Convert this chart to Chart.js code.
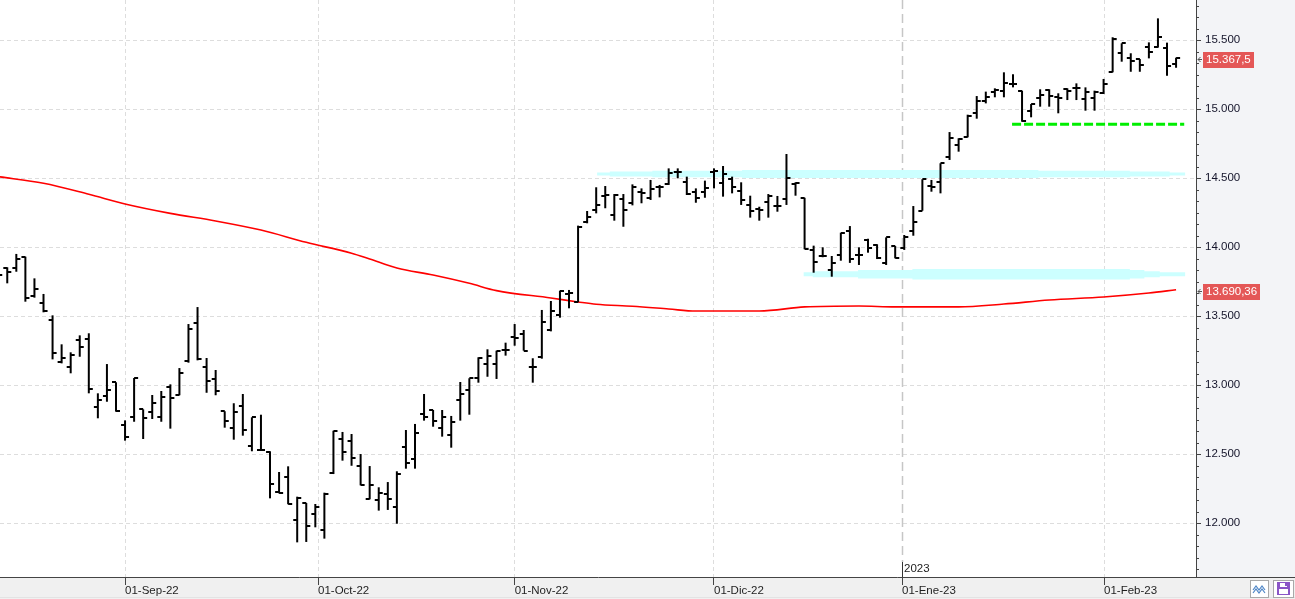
<!DOCTYPE html>
<html><head><meta charset="utf-8">
<script src="https://cdn.jsdelivr.net/npm/chart.js@4.4.1/dist/chart.umd.min.js"></script>
<style>html,body{margin:0;padding:0;background:#fff;overflow:hidden}#wrap{width:1295px;height:599px;position:relative}</style>
</head><body><div id="wrap"><canvas id="c" width="1295" height="599"></canvas></div>
<script>
// ---- OHLC values (one per trading day, index 0..130) ----
const opens = [13780,13846,13846,13930,13647,13594,13471,13165,13131,13326,
 13334,12839,12920,13020,12711,12766,12824,12802,12766,12986,
 12926,13172,13447,13129,13042,12810,12686,12848,12556,12527,
 12513,12227,12334,12020,12145,12063,11950,12360,12607,12592,
 12413,12172,12165,12208,12116,12549,12462,12788,12819,12689,
 12636,12892,12962,13053,13152,13152,13252,13346,13370,13129,
 13201,13399,13507,13657,13600,14179,14268,14372,14232,14346,
 14317,14397,14353,14433,14457,14546,14469,14397,14397,14541,
 14466,14491,14406,14305,14273,14324,14300,14346,14454,14357,
 13979,13937,13834,13940,14118,13942,14051,14015,13887,14007,
 13991,14116,14263,14444,14473,14650,14739,14799,14973,15056,
 15121,15131,15181,15133,14986,15078,15138,15085,15143,15155,
 15070,15078,15118,15270,15404,15372,15362,15447,15447,15445,
 15324];
const highs = [13830,13853,13950,13930,13773,13660,13505,13295,13237,13360,
 13375,12940,13152,13020,12744,13051,12824,12928,12957,13005,
 13123,13442,13565,13196,13109,12810,12868,12935,12766,12785,
 12520,12370,12411,12191,12145,12138,12220,12669,12660,12645,
 12500,12413,12259,12297,12375,12674,12718,12935,12819,12819,
 12776,13022,13049,13201,13259,13249,13307,13442,13399,13194,
 13544,13609,13684,13689,14155,14261,14433,14442,14384,14384,
 14454,14425,14486,14450,14570,14570,14510,14425,14481,14570,
 14587,14510,14469,14372,14292,14384,14370,14674,14469,14357,
 14010,13998,13935,14104,14152,13998,14060,14020,14070,14007,
 14087,14297,14491,14486,14607,14833,14788,14959,15094,15126,
 15150,15266,15252,15133,15036,15143,15143,15114,15150,15186,
 15157,15133,15218,15520,15476,15404,15362,15483,15657,15481,
 15372];
const lows = [13760,13737,13821,13604,13633,13527,13186,13157,13085,13205,
 12940,12759,12879,12807,12597,12734,12609,12754,12734,12684,
 12926,13162,13179,12944,12926,12691,12604,12633,12520,12527,
 12179,12215,12136,11860,11863,11969,11887,12355,12452,12415,
 12273,12172,12090,12095,11995,12394,12394,12742,12698,12626,
 12546,12742,12785,13017,13060,13044,13213,13285,13249,13017,
 13191,13389,13488,13556,13600,14172,14244,14281,14191,14147,
 14302,14317,14341,14360,14450,14498,14377,14321,14357,14425,
 14365,14389,14305,14213,14191,14213,14256,14305,14372,13984,
 13814,13926,13785,13901,13885,13870,13959,13913,13870,13918,
 13979,14082,14263,14401,14389,14631,14691,14795,14930,15041,
 15085,15085,15157,14908,14940,15017,15017,14969,15065,15065,
 14988,14988,15109,15266,15343,15270,15270,15367,15445,15241,
 15299];
const closes = [13797,13817,13911,13628,13694,13539,13230,13194,13216,13273,
 12969,12889,12962,12814,12626,13051,12759,12868,12916,12904,
 13085,13404,13186,13027,12955,12737,12802,12672,12766,12527,
 12281,12220,12136,12184,11979,12116,12210,12665,12515,12469,
 12273,12276,12218,12172,12355,12433,12650,12766,12737,12766,
 12730,12933,13049,13196,13208,13247,13252,13339,13249,13129,
 13454,13534,13680,13669,14147,14220,14305,14377,14377,14266,
 14433,14389,14418,14437,14538,14544,14384,14353,14425,14550,
 14529,14437,14341,14261,14268,14370,14300,14498,14462,13984,
 13889,13937,13882,14099,13913,13942,13993,13920,14070,13918,
 14070,14184,14491,14433,14607,14792,14781,14952,15058,15085,
 15138,15186,15181,14915,15034,15102,15094,15078,15131,15155,
 15126,15126,15181,15507,15476,15348,15317,15411,15520,15312,
 15367.5];

// ---- moving average (red), read at these bar indices ----
const maIndex  = [0,5,10,14,19,24,29,34,39,41,44,48,52,55,61,64,66,70,74,77,84,89,95,99,106,111,116,122,127,130];
const maValues = [14510,14462,14382,14312,14244,14189,14123,14034,13955,13913,13848,13797,13737,13684,13631,13602,13585,13571,13551,13536,13536,13566,13573,13566,13566,13587,13616,13638,13667,13690.36];

// ---- drawn levels ----
const upperZoneIndex = [66.1, 131.0];  const upperZoneValue = 14530;
const lowerZoneIndex = [88.9, 131.0];  const lowerZoneValue = 13802;
const supportIndex   = [111.9, 130.9]; const supportValue   = 14889;

// ---- axes ----
const monthLabels = ['01-Sep-22','01-Oct-22','01-Nov-22','01-Dic-22','01-Ene-23','01-Feb-23'];
const monthIndex  = [14, 35.3, 57, 79, 99.76, 122.05];
const yearLabel = '2023';
const yearIndex = 99.76;
const yTicks = [12000,12500,13000,13500,14000,14500,15000,15500];
const yMin = 11609, yMax = 15790;
const xMin = 0.1987, xMax = 132.2;

function fmtNum(v, dec){
  const s = v.toFixed(dec).split('.');
  const int = s[0].replace(/\B(?=(\d{3})+(?!\d))/g, '.');
  return s.length > 1 ? int + ',' + s[1] : int;
}
function decimalsOf(v){ const s = String(v).split('.'); return s.length > 1 ? s[1].length : 0; }

function tickImage(side){
  const c = document.createElement('canvas');
  c.width = 10; c.height = 2;
  const g = c.getContext('2d');
  g.fillStyle = '#000';
  if (side < 0) g.fillRect(1, 0, 4, 2); else g.fillRect(5, 0, 4, 2);
  return c;
}
const openImg = tickImage(-1), closeImg = tickImage(1);

const idx = opens.map((_, i) => i);
const FONT = 'Liberation Sans';

function seg(indexArr, value){ return indexArr.map(x => ({x, y: value})); }
function subSeg(a, b, value){ return [{x:a, y:value},{x:b, y:value}]; }

const zoneColor = '#ccffff';
const datasets = [
  {type:'line', data: seg(upperZoneIndex, upperZoneValue), borderColor: zoneColor, borderWidth: 3, pointRadius:0, order: 20, borderCapStyle:'butt'},
  {type:'line', data: subSeg(67.5, 129.3, upperZoneValue), borderColor: zoneColor, borderWidth: 5, pointRadius:0, order: 20, borderCapStyle:'butt'},
  {type:'line', data: subSeg(72.2, 124.9, upperZoneValue), borderColor: zoneColor, borderWidth: 6.5, pointRadius:0, order: 20, borderCapStyle:'butt'},
  {type:'line', data: subSeg(82.1, 114.8, upperZoneValue), borderColor: zoneColor, borderWidth: 8, pointRadius:0, order: 20, borderCapStyle:'butt'},
  {type:'line', data: seg(lowerZoneIndex, lowerZoneValue), borderColor: zoneColor, borderWidth: 4, pointRadius:0, order: 20, borderCapStyle:'butt'},
  {type:'line', data: subSeg(89.9, 128.2, lowerZoneValue), borderColor: zoneColor, borderWidth: 6, pointRadius:0, order: 20, borderCapStyle:'butt'},
  {type:'line', data: subSeg(94.9, 126.5, lowerZoneValue), borderColor: zoneColor, borderWidth: 8.5, pointRadius:0, order: 20, borderCapStyle:'butt'},
  {type:'line', data: subSeg(100.9, 124.9, lowerZoneValue), borderColor: zoneColor, borderWidth: 10.5, pointRadius:0, order: 20, borderCapStyle:'butt'},
  {type:'line', data: seg(supportIndex, supportValue), borderColor: '#00ee00', borderWidth: 3, borderDash:[9,3], pointRadius:0, order: 15, borderCapStyle:'butt'},
  {type:'line', data: maIndex.map((x,k)=>({x, y: maValues[k]})), borderColor:'#ff0000', borderWidth:1.6, pointRadius:0, cubicInterpolationMode:'monotone', order: 10},
  {type:'bar', data: idx.map(i => ({x:i, y:[lows[i], highs[i]]})), backgroundColor:'#000', borderWidth:0, barThickness:2, inflateAmount:0, order: 5},
  {type:'scatter', data: idx.map(i => ({x:i, y:opens[i]})), pointStyle: openImg, pointRadius:5, pointBorderWidth:0, order: 1},
  {type:'scatter', data: idx.map(i => ({x:i, y:closes[i]})), pointStyle: closeImg, pointRadius:5, pointBorderWidth:0, order: 1}
];

const deco = {
  id: 'deco',
  beforeDraw(chart){
    const {ctx, chartArea:a, width:W, height:H} = chart;
    ctx.save();
    ctx.fillStyle = '#ffffff'; ctx.fillRect(0,0,W,H);
    ctx.fillStyle = '#f3f4f7'; ctx.fillRect(a.right, 0, W - a.right, a.bottom);
    ctx.fillStyle = '#f0f0f0'; ctx.fillRect(0, a.bottom, W, H - a.bottom);
    ctx.fillStyle = '#e3e3e3'; ctx.fillRect(0, H - 2, W, 1);
    ctx.restore();
  },
  beforeDatasetsDraw(chart){
    const {ctx, chartArea:a, scales:{x}} = chart;
    const px = Math.round(x.getPixelForValue(yearIndex)) + 0.5;
    ctx.save();
    ctx.strokeStyle = '#c6c6c6'; ctx.lineWidth = 1.5; ctx.setLineDash([9,5]);
    ctx.beginPath(); ctx.moveTo(px, a.top); ctx.lineTo(px, a.bottom - 15); ctx.stroke();
    ctx.restore();
  },
  afterDraw(chart){
    const {ctx, chartArea:a, width:W, height:H, scales:{x, y}} = chart;
    ctx.save();
    ctx.strokeStyle = '#444'; ctx.lineWidth = 1;
    ctx.beginPath(); ctx.moveTo(a.right, a.bottom + 0.5); ctx.lineTo(W, a.bottom + 0.5); ctx.stroke();
    const step = 500/6;
    for (let v = yTicks[0] - step*10; v <= yMax; v += step) {
      if (v < yMin) continue;
      const k = Math.round((v - yTicks[0]) / step);
      if (k % 6 === 0) continue;
      const py = Math.round(y.getPixelForValue(v)) + 0.5;
      ctx.beginPath(); ctx.moveTo(a.right, py); ctx.lineTo(a.right + 3, py); ctx.stroke();
    }
    const px = Math.round(x.getPixelForValue(yearIndex)) + 0.5;
    ctx.strokeStyle = '#333';
    ctx.beginPath(); ctx.moveTo(px, a.bottom - 15); ctx.lineTo(px, a.bottom); ctx.stroke();
    ctx.fillStyle = '#222'; ctx.font = '11.5px ' + FONT; ctx.textBaseline = 'middle'; ctx.textAlign = 'left';
    ctx.fillText(yearLabel, px + 1.5, a.bottom - 8);
    function tag(value, text){
      const py = Math.round(y.getPixelForValue(value));
      ctx.font = '11.5px ' + FONT;
      const w = ctx.measureText(text).width + 6;
      ctx.fillStyle = '#e45757';
      ctx.fillRect(a.right + 7, py - 6, Math.round(w), 16);
      ctx.fillStyle = '#ffffff'; ctx.textBaseline = 'middle'; ctx.textAlign = 'left';
      ctx.fillText(text, a.right + 10, py + 2);
      ctx.strokeStyle = '#555'; ctx.lineWidth = 1;
      ctx.beginPath(); ctx.moveTo(a.right + 6, py + 1.5); ctx.lineTo(a.right + 2, py + 1.5);
      ctx.moveTo(a.right + 4.5, py - 1); ctx.lineTo(a.right + 2, py + 1.5); ctx.lineTo(a.right + 4.5, py + 4);
      ctx.stroke();
    }
    const lastClose = closes[closes.length - 1];
    const lastMA = maValues[maValues.length - 1];
    tag(lastClose, fmtNum(lastClose, decimalsOf(lastClose)));
    tag(lastMA, fmtNum(lastMA, decimalsOf(lastMA)));
    ctx.fillStyle = '#ffffff'; ctx.fillRect(1250, 580, 18, 17);
    ctx.strokeStyle = '#a9a9a9'; ctx.strokeRect(1250.5, 580.5, 18, 17);
    ctx.strokeStyle = '#4f86c6'; ctx.lineWidth = 1.2;
    ctx.beginPath();
    ctx.moveTo(1253, 590); ctx.lineTo(1256, 586); ctx.lineTo(1259, 590); ctx.lineTo(1262, 586); ctx.lineTo(1265, 590);
    ctx.moveTo(1253, 593); ctx.lineTo(1256, 589); ctx.lineTo(1259, 593); ctx.lineTo(1262, 589); ctx.lineTo(1265, 593);
    ctx.stroke();
    ctx.fillStyle = '#ffffff'; ctx.fillRect(1273, 580, 20, 17);
    ctx.strokeStyle = '#a9a9a9'; ctx.lineWidth = 1; ctx.strokeRect(1273.5, 580.5, 20, 17);
    ctx.fillStyle = '#8a55c6'; ctx.fillRect(1277, 582, 13, 13);
    ctx.fillStyle = '#ffffff'; ctx.fillRect(1280, 583, 7, 4); ctx.fillRect(1279, 589, 9, 5);
    ctx.fillStyle = '#8a55c6'; ctx.fillRect(1285, 583, 2, 3);
    ctx.restore();
  }
};

Chart.defaults.font.family = FONT;
new Chart(document.getElementById('c'), {
  type: 'bar',
  data: { datasets },
  options: {
    responsive: false, animation: false, devicePixelRatio: 1, events: [],
    layout: { padding: 0, autoPadding: false },
    plugins: { legend: {display:false}, tooltip: {enabled:false} },
    scales: {
      x: {
        type: 'linear', position: 'bottom', min: xMin, max: xMax, offset: false,
        afterBuildTicks: s => { s.ticks = monthIndex.map(v => ({value: v})); },
        afterFit: s => { s.height = 22; s.paddingLeft = 0; s.paddingRight = 0; },
        ticks: { autoSkip: false, maxRotation: 0, minRotation: 0, align: 'start', padding: -1,
                 callback: (v, i) => monthLabels[i], color: '#1e1e1e', font: {size: 11.5} },
        grid: { offset: false, tickLength: 8, tickColor: '#444', lineWidth: 1,
                color: c => (c.tick && c.tick.value === yearIndex) ? 'rgba(0,0,0,0)' : '#dddddd' },
        border: { color: '#444', width: 1, dash: [4,3] }
      },
      y: {
        type: 'linear', position: 'right', min: yMin, max: yMax,
        afterBuildTicks: s => { s.ticks = yTicks.map(v => ({value: v})); },
        afterFit: s => { s.width = 99; s.paddingTop = 0; s.paddingBottom = 0; },
        ticks: { callback: v => fmtNum(v, 0), color: '#14142a', padding: 4, font: {size: 11.5} },
        grid: { tickLength: 5, tickColor: '#444', color: '#dddddd', lineWidth: 1 },
        border: { color: '#444', width: 1, dash: [4,3] }
      }
    }
  },
  plugins: [deco]
});
</script>
</body></html>
